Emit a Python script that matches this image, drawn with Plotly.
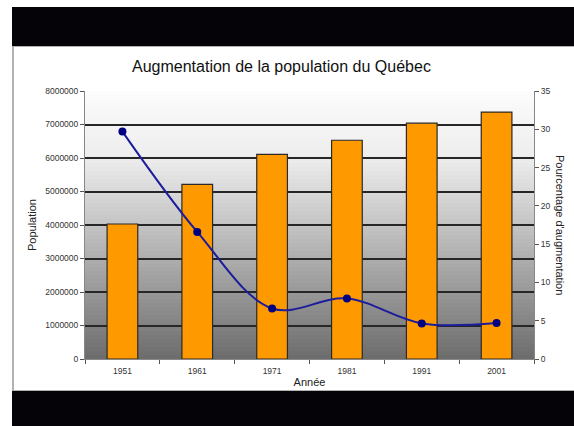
import plotly.graph_objects as go

# ---- data ----
years = ["1951", "1961", "1971", "1981", "1991", "2001"]
population = [4030000, 5210000, 6110000, 6530000, 7040000, 7370000]
pct_increase = [29.7, 16.6, 6.6, 7.9, 4.65, 4.7]

W, H = 574, 426
L, R, T, B = 85, 534, 91, 359  # plot area pixel bounds


def px(x):
    return (x - L) / (R - L)


def py(y):
    return (B - y) / (B - T)


fig = go.Figure()

fig.add_trace(go.Bar(
    x=years, y=population, yaxis="y",
    marker=dict(color="#FF9900", line=dict(color="#2a2a2a", width=1.2)),
    width=0.41, showlegend=False, hoverinfo="x+y",
))

fig.add_trace(go.Scatter(
    x=years, y=pct_increase, yaxis="y2", mode="lines+markers",
    line=dict(color="#1c1c9c", width=2, shape="spline", smoothing=1.0),
    marker=dict(color="#000080", size=8),
    showlegend=False,
))

shapes = []
# white panel with gray border
shapes.append(dict(type="rect", xref="paper", yref="paper",
                   x0=px(13), x1=px(580), y0=py(391), y1=py(46),
                   fillcolor="white", line=dict(color="#9a9a9a", width=1.5),
                   layer="below"))
# gradient background of plot area
knots = [(0.0, 252), (0.25, 237), (0.5, 196), (0.75, 152), (1.0, 108)]


def gray(t):
    for (t0, c0), (t1, c1) in zip(knots[:-1], knots[1:]):
        if t0 <= t <= t1:
            return c0 + (c1 - c0) * (t - t0) / (t1 - t0)
    return knots[-1][1]


N = 67
for i in range(N):
    t = (i + 0.5) / N
    g = int(round(gray(t)))
    shapes.append(dict(type="rect", xref="x domain", yref="y domain",
                       x0=0, x1=1, y0=1 - (i + 1) / N - 0.002, y1=1 - i / N,
                       fillcolor=f"rgb({g},{g},{g})", line=dict(width=0),
                       layer="below"))
# black bands
shapes.append(dict(type="rect", xref="paper", yref="paper",
                   x0=px(12), x1=px(580), y0=py(46), y1=py(7),
                   fillcolor="#050308", line=dict(width=0), layer="above"))
shapes.append(dict(type="rect", xref="paper", yref="paper",
                   x0=px(12), x1=px(580), y0=py(440), y1=py(391),
                   fillcolor="#050308", line=dict(width=0), layer="above"))

annotations = [
    dict(text="Augmentation de la population du Québec", xref="paper", yref="paper",
         x=px(281), y=py(67), showarrow=False, xanchor="center", yanchor="middle",
         font=dict(family="Liberation Sans, Arial", size=16, color="#111")),
    dict(text="Pourcentage d'augmentation", xref="paper", yref="paper",
         x=px(560), y=py(225), showarrow=False, textangle=90,
         xanchor="center", yanchor="middle",
         font=dict(family="Liberation Sans, Arial", size=11, color="#222")),
]

axis_font = dict(family="Liberation Sans, Arial", size=8.5, color="#333")

fig.update_layout(
    width=W, height=H,
    margin=dict(l=L, r=W - R, t=T, b=H - B, pad=0),
    paper_bgcolor="white", plot_bgcolor="rgba(0,0,0,0)",
    shapes=shapes, annotations=annotations,
    bargap=0.59,
    xaxis=dict(type="category", tickfont=axis_font, ticks="outside",
               tickson="boundaries", ticklen=4, tickcolor="#555",
               ticklabelstandoff=4,
               showline=True, linecolor="#888", linewidth=1,
               showgrid=False,
               title=dict(text="Année", standoff=3,
                          font=dict(family="Liberation Sans, Arial", size=11, color="#222"))),
    yaxis=dict(range=[0, 8000000], dtick=1000000, tickformat="d",
               tickfont=axis_font, ticks="outside", ticklen=4, tickcolor="#555",
               showline=True, linecolor="#888", linewidth=1,
               showgrid=True, gridcolor="#262626", gridwidth=1.5,
               zeroline=False,
               title=dict(text="Population", standoff=6,
                          font=dict(family="Liberation Sans, Arial", size=11, color="#222"))),
    yaxis2=dict(range=[0, 35], dtick=5, overlaying="y", side="right",
                tickfont=axis_font, ticks="outside", ticklen=4, tickcolor="#555",
                showline=True, linecolor="#888", linewidth=1,
                showgrid=False, zeroline=False),
)

fig.write_html("out.html", config={"displayModeBar": False},
               post_script="document.body.style.margin='0';document.body.style.padding='0';document.body.style.overflow='hidden';")
